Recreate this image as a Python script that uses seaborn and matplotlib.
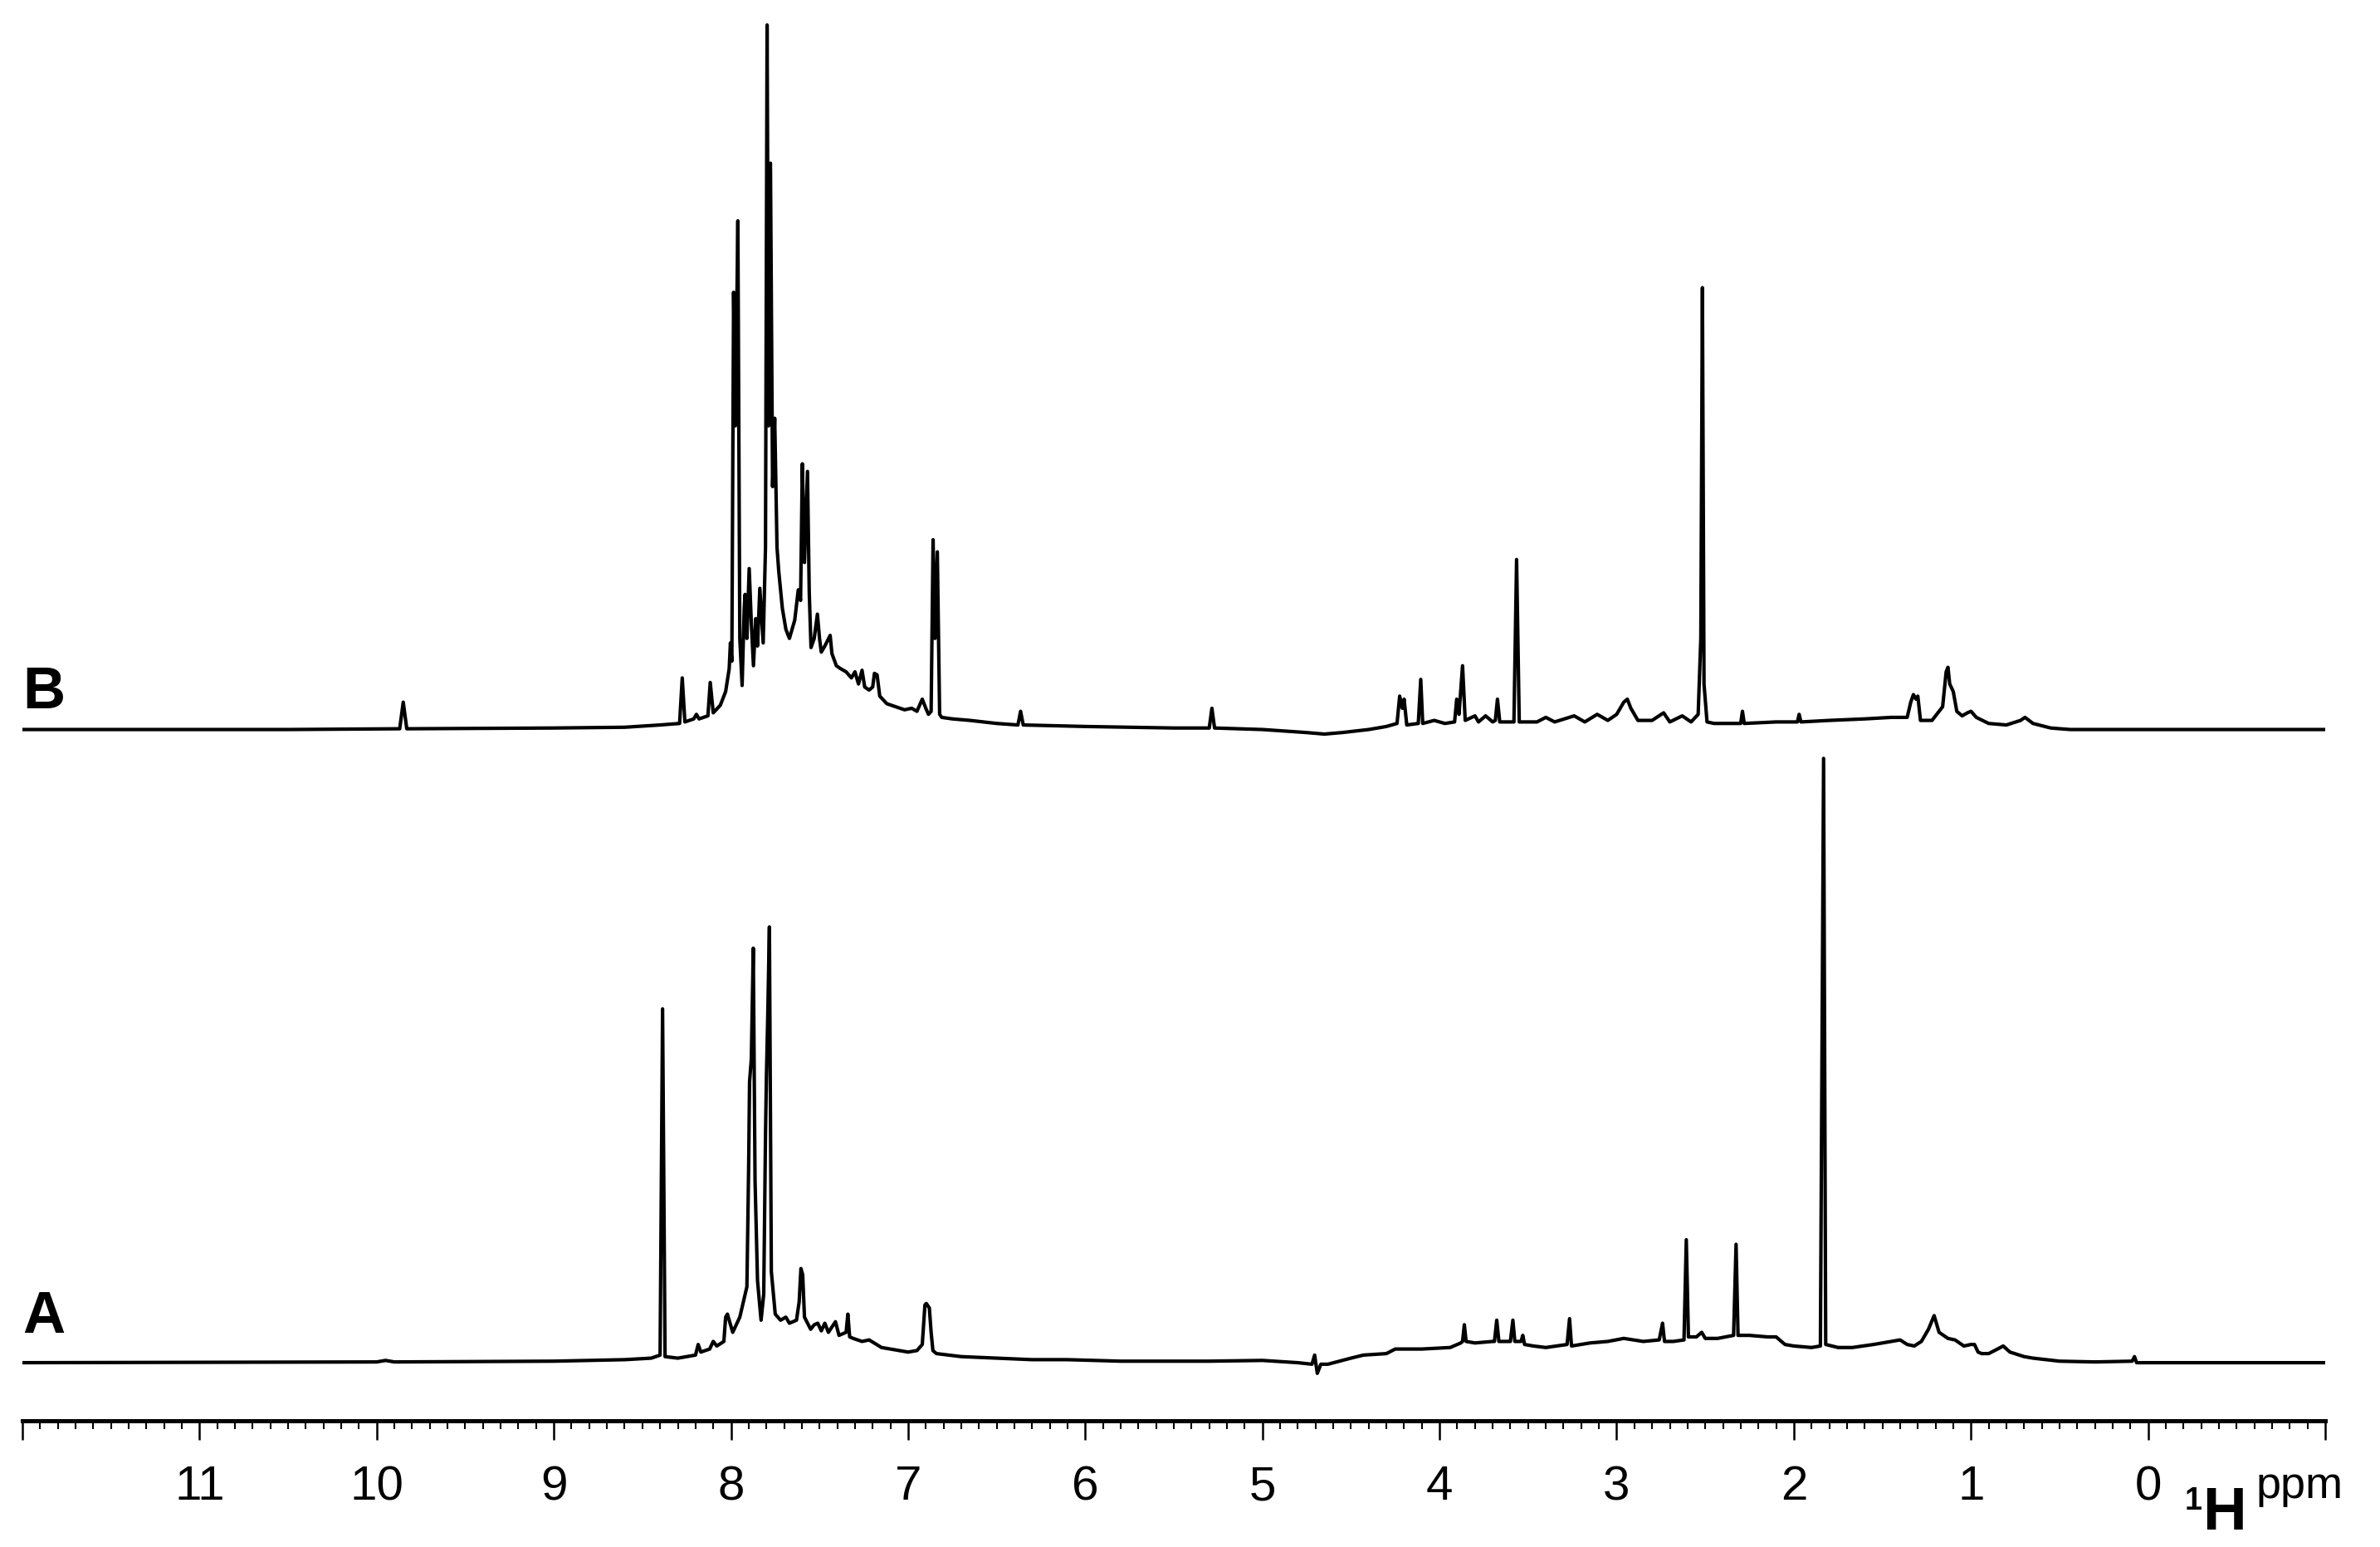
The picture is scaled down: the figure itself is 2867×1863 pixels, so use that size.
import numpy as np
import pandas as pd
import matplotlib.pyplot as plt
import seaborn as sns

# spectrum B (upper trace): (ppm, intensity above its own baseline)
trace_b = [
    (12.0, 0), (10.5, 0), (9.87, 0.5), (9.85, 18), (9.83, 0.5), (9.0, 1), (8.6, 1.5),
    (8.4, 3), (8.29, 4), (8.275, 34), (8.26, 5), (8.21, 7), (8.195, 10), (8.18, 7),
    (8.13, 9), (8.117, 31), (8.10, 11), (8.06, 16), (8.03, 25), (8.01, 40), (8.003, 57),
    (7.995, 45), (7.985, 288), (7.975, 200), (7.961, 335), (7.95, 60), (7.937, 29),
    (7.925, 80), (7.92, 89), (7.91, 60), (7.897, 106), (7.885, 70), (7.873, 42),
    (7.86, 73), (7.85, 55), (7.837, 93), (7.825, 70), (7.818, 57), (7.805, 120),
    (7.796, 464), (7.787, 200), (7.777, 373), (7.765, 160), (7.753, 205), (7.74, 120),
    (7.73, 104), (7.71, 80), (7.69, 66), (7.67, 60), (7.64, 72), (7.62, 92), (7.607, 85),
    (7.597, 175), (7.585, 110), (7.568, 170), (7.558, 90), (7.548, 54), (7.53, 60),
    (7.512, 76), (7.50, 60), (7.49, 51), (7.47, 55), (7.44, 62), (7.43, 50), (7.405, 42),
    (7.38, 40), (7.35, 38), (7.32, 34), (7.30, 38), (7.28, 30), (7.26, 39), (7.245, 28),
    (7.22, 26), (7.20, 28), (7.19, 37), (7.175, 36), (7.16, 22), (7.12, 17), (7.07, 15),
    (7.02, 13), (6.98, 14), (6.95, 12), (6.92, 20), (6.90, 14), (6.885, 10), (6.87, 12),
    (6.859, 125), (6.848, 60), (6.835, 117), (6.822, 10), (6.81, 8), (6.75, 7), (6.65, 6),
    (6.5, 4), (6.38, 3), (6.365, 12), (6.35, 3), (6.0, 2), (5.5, 1), (5.30, 1),
    (5.285, 14), (5.27, 1), (5.0, 0), (4.75, -2), (4.65, -3), (4.55, -2), (4.4, 0),
    (4.30, 2), (4.24, 4), (4.225, 22), (4.21, 14), (4.20, 20), (4.185, 3), (4.12, 4),
    (4.106, 33), (4.095, 4), (4.03, 6), (3.97, 4), (3.915, 5), (3.903, 20), (3.89, 10),
    (3.87, 42), (3.855, 6), (3.80, 9), (3.78, 5), (3.74, 9), (3.70, 5), (3.685, 6),
    (3.673, 20), (3.66, 5), (3.58, 5), (3.565, 112), (3.55, 5), (3.45, 5), (3.40, 8),
    (3.35, 5), (3.24, 9), (3.18, 5), (3.11, 10), (3.05, 6), (3.0, 10), (2.96, 18),
    (2.94, 20), (2.92, 14), (2.88, 6), (2.80, 6), (2.735, 11), (2.70, 5), (2.63, 9),
    (2.58, 5), (2.54, 10), (2.525, 60), (2.516, 291), (2.507, 30), (2.49, 5), (2.45, 4),
    (2.30, 4), (2.29, 12), (2.28, 4), (2.1, 5), (1.98, 5), (1.97, 10), (1.96, 5),
    (1.8, 6), (1.6, 7), (1.45, 8), (1.36, 8), (1.34, 18), (1.325, 23), (1.31, 20),
    (1.30, 22), (1.285, 6), (1.22, 6), (1.16, 15), (1.14, 38), (1.13, 41), (1.12, 30),
    (1.10, 25), (1.08, 12), (1.05, 9), (1.02, 11), (1.0, 12), (0.97, 8), (0.90, 4),
    (0.80, 3), (0.72, 6), (0.695, 8), (0.65, 4), (0.55, 1), (0.44, 0), (-1.0, 0),
]

# spectrum A (lower trace)
trace_a = [
    (12.0, 0), (10.0, 0.5), (9.95, 1.5), (9.9, 0.5), (9.0, 1), (8.6, 2), (8.45, 3),
    (8.40, 5), (8.386, 233), (8.372, 4), (8.3, 3), (8.20, 5), (8.185, 12), (8.17, 7),
    (8.12, 9), (8.10, 14), (8.08, 11), (8.04, 14), (8.03, 30), (8.02, 32), (8.01, 28),
    (7.99, 20), (7.95, 30), (7.91, 50), (7.90, 130), (7.895, 185), (7.885, 200),
    (7.874, 273), (7.864, 120), (7.85, 54), (7.83, 28), (7.815, 45), (7.805, 150),
    (7.80, 187), (7.792, 230), (7.783, 287), (7.772, 60), (7.75, 32), (7.72, 28),
    (7.69, 30), (7.67, 26), (7.63, 28), (7.615, 40), (7.605, 62), (7.595, 58),
    (7.585, 30), (7.55, 22), (7.53, 25), (7.51, 26), (7.49, 21), (7.47, 26), (7.45, 20),
    (7.41, 27), (7.39, 18), (7.35, 20), (7.34, 32), (7.33, 17), (7.31, 16), (7.26, 14),
    (7.22, 15), (7.15, 10), (7.05, 8), (7.0, 7), (6.95, 8), (6.92, 12), (6.905, 38),
    (6.897, 39), (6.88, 36), (6.87, 20), (6.86, 8), (6.84, 6), (6.7, 4), (6.5, 3),
    (6.3, 2), (6.1, 2), (5.8, 1), (5.3, 1), (5.0, 1.5), (4.8, 0), (4.72, -1),
    (4.705, 5), (4.69, -7), (4.67, -1), (4.63, -1), (4.5, 3), (4.43, 5), (4.30, 6),
    (4.25, 9), (4.1, 9), (3.94, 10), (3.88, 13), (3.87, 14), (3.86, 25), (3.85, 14),
    (3.80, 13), (3.70, 14), (3.69, 14), (3.677, 28), (3.665, 14), (3.60, 14),
    (3.586, 28), (3.575, 14), (3.54, 14), (3.53, 18), (3.52, 12), (3.47, 11), (3.40, 10),
    (3.28, 12), (3.266, 29), (3.255, 11), (3.15, 13), (3.05, 14), (2.96, 16), (2.85, 14),
    (2.76, 15), (2.741, 26), (2.73, 14), (2.68, 14), (2.62, 15), (2.607, 81), (2.595, 17),
    (2.55, 17), (2.52, 20), (2.50, 16), (2.43, 16), (2.34, 18), (2.326, 78), (2.315, 18),
    (2.25, 18), (2.15, 17), (2.10, 17), (2.05, 12), (2.0, 11), (1.9, 10), (1.85, 11),
    (1.832, 398), (1.82, 12), (1.75, 10), (1.67, 10), (1.55, 12), (1.45, 14), (1.40, 15),
    (1.36, 12), (1.32, 11), (1.28, 14), (1.24, 22), (1.208, 31), (1.18, 20), (1.13, 16),
    (1.09, 15), (1.04, 11), (1.0, 12), (0.98, 12), (0.96, 7), (0.94, 6), (0.90, 6),
    (0.85, 9), (0.818, 11), (0.78, 7), (0.70, 4), (0.65, 3), (0.5, 1), (0.3, 0.5),
    (0.09, 1), (0.077, 4), (0.065, 0), (-1.0, 0),
]

b_offset = 417          # vertical stacking of trace B above trace A
tick_ppm = list(range(-1, 13))
tick_labels = ["" if t in (-1, 12) else str(t) for t in tick_ppm]

df_a = pd.DataFrame(trace_a, columns=["ppm", "intensity"])
df_b = pd.DataFrame(trace_b, columns=["ppm", "intensity"])
df_b["intensity"] = df_b["intensity"] + b_offset

sns.set_style("white")
plt.rcParams["font.family"] = ["Liberation Sans", "DejaVu Sans"]
plt.rcParams["text.color"] = "black"
plt.rcParams["xtick.color"] = "black"
plt.rcParams["xtick.labelcolor"] = "black"

fig = plt.figure(figsize=(2867 / 300, 1864 / 300), dpi=300)
ax = fig.add_axes([0.0094, 0.0815, 0.9676, 0.9185])

for d in (df_a, df_b):
    sns.lineplot(data=d, x="ppm", y="intensity", ax=ax, color="black",
                 lw=1.0, sort=False, estimator=None)

ax.set_xlim(12, -1)
ax.set_ylim(-38.3, 898)
ax.set_xlabel("")
ax.set_ylabel("")
ax.set_yticks([])
ax.set_xticks(tick_ppm)
ax.set_xticklabels(tick_labels, fontsize=14, color="black")
ax.set_xticks(np.arange(-1, 12.01, 0.1), minor=True)
ax.tick_params(axis="x", which="major", direction="out", length=5.5, width=0.6,
               pad=7, color="black", bottom=True)
ax.tick_params(axis="x", which="minor", direction="out", length=2.4, width=0.5,
               color="black", bottom=True)
for s in ("left", "right", "top"):
    ax.spines[s].set_visible(False)
ax.spines["bottom"].set_color("black")
ax.spines["bottom"].set_linewidth(1.2)

ax.text(0.0, 0.502, "B", transform=ax.transAxes, fontsize=17, fontweight="bold",
        ha="left", va="baseline", color="black")
ax.text(0.0, 0.0625, "A", transform=ax.transAxes, fontsize=17, fontweight="bold",
        ha="left", va="baseline", color="black")

fig.text(0.918, 0.0397, "1", fontsize=9, fontweight="bold", ha="left", va="top")
fig.text(0.9255, 0.0118, "H", fontsize=17.5, fontweight="bold", ha="left", va="baseline")
fig.text(0.948, 0.053, "ppm", fontsize=13, ha="left", va="top")

fig.savefig("out.png", dpi=300)
